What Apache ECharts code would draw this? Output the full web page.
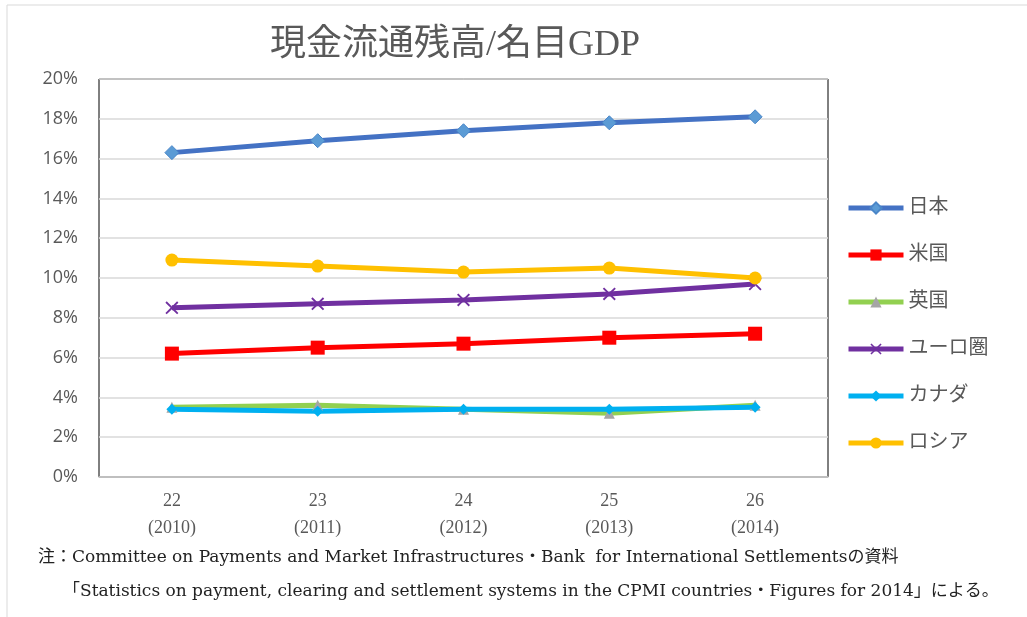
<!DOCTYPE html>
<html>
<head>
<meta charset="utf-8">
<script src="https://cdn.jsdelivr.net/npm/echarts@6/dist/echarts.min.js"></script>
<style>
  html, body { margin: 0; padding: 0; background: #fff; }
  #chart { width: 1027px; height: 617px; }
</style>
</head>
<body>
<div id="chart"></div>
<script>
  // 年度（和暦 / 西暦）
  const categories = ['22\n(2010)', '23\n(2011)', '24\n(2012)', '25\n(2013)', '26\n(2014)']

  // 現金流通残高/名目GDP (%)
  const japan = [16.3, 16.9, 17.4, 17.8, 18.1]
  const usa = [6.2, 6.5, 6.7, 7.0, 7.2]
  const uk = [3.5, 3.6, 3.4, 3.2, 3.6]
  const euro = [8.5, 8.7, 8.9, 9.2, 9.7]
  const canada = [3.4, 3.3, 3.4, 3.4, 3.5]
  const russia = [10.9, 10.6, 10.3, 10.5, 10.0]

  const titleText = '現金流通残高/名目GDP'
  const noteLine1 = '注：Committee on Payments and Market Infrastructures・Bank  for International Settlementsの資料'
  const noteLine2 = '「Statistics on payment, clearing and settlement systems in the CPMI countries・Figures for 2014」による。'

  const crossPath = 'path://M0,1L1,0L5,4L9,0L10,1L6,5L10,9L9,10L5,6L1,10L0,9L4,5Z'
  const serif = '"Liberation Serif", "Noto Sans CJK JP", serif'
  const wideSerif = '"DejaVu Serif", "Noto Sans CJK JP", serif'
  const gray = '#595959'

  function lineSeries(name, data, color, symbol, symbolSize, markerColor, markerBorder) {
    return {
      name,
      type: 'line',
      data,
      symbol,
      symbolSize,
      lineStyle: { color, width: 5 },
      itemStyle: {
        color: markerColor || color,
        borderColor: markerBorder || markerColor || color,
        borderWidth: markerBorder ? 1 : 0
      },
      animation: false
    }
  }

  const chart = echarts.init(document.getElementById('chart'))
  chart.setOption({
    backgroundColor: '#fff',
    grid: {
      left: 99,
      right: 199,
      top: 79,
      bottom: 140,
      show: true,
      borderColor: '#000',
      borderWidth: 1
    },
    legend: {
      orient: 'vertical',
      left: 841,
      top: 193,
      itemWidth: 55,
      itemHeight: 14,
      itemGap: 27,
      lineStyle: { width: 5 },
      textStyle: { fontSize: 20, color: gray, fontFamily: serif },
      data: ['日本', '米国', '英国', 'ユーロ圏', 'カナダ', 'ロシア']
    },
    xAxis: {
      type: 'category',
      data: categories,
      axisLine: { lineStyle: { color: '#BFBFBF', width: 1.5 } },
      axisTick: { show: false },
      axisLabel: {
        color: gray,
        fontSize: 18,
        fontFamily: serif,
        lineHeight: 27,
        margin: 11
      },
      z: 5
    },
    yAxis: {
      type: 'value',
      min: 0,
      max: 20,
      interval: 2,
      axisLine: { show: false },
      axisTick: { show: false },
      axisLabel: {
        formatter: '{value}%',
        color: gray,
        fontSize: 18,
        fontFamily: '"Open Sans", "Liberation Sans", sans-serif',
        margin: 21
      },
      splitLine: { lineStyle: { color: '#D9D9D9', width: 1.5 } }
    },
    graphic: [
      {
        type: 'line',
        shape: { x1: 7, y1: 5, x2: 1027, y2: 5 },
        style: { stroke: '#D9D9D9', lineWidth: 1 }
      },
      {
        type: 'line',
        shape: { x1: 7, y1: 5, x2: 7, y2: 617 },
        style: { stroke: '#D9D9D9', lineWidth: 1 }
      },
      {
        type: 'text',
        x: 455,
        y: 46,
        style: {
          text: titleText,
          fill: gray,
          font: '36px ' + serif,
          textAlign: 'center',
          textVerticalAlign: 'middle'
        }
      },
      {
        type: 'text',
        x: 38,
        y: 558,
        style: {
          text: noteLine1,
          fill: '#222',
          font: '17px ' + wideSerif,
          textVerticalAlign: 'middle'
        }
      },
      {
        type: 'text',
        x: 63,
        y: 592,
        style: {
          text: noteLine2,
          fill: '#222',
          font: '17px ' + wideSerif,
          textVerticalAlign: 'middle'
        }
      }
    ],
    series: [
      lineSeries('日本', japan, '#4472C4', 'diamond', 14, '#5B9BD5', '#4A86C8'),
      lineSeries('米国', usa, '#FF0000', 'rect', 14),
      lineSeries('英国', uk, '#92D050', 'triangle', 11, '#A5A5A5'),
      lineSeries('ユーロ圏', euro, '#7030A0', crossPath, 13),
      lineSeries('カナダ', canada, '#00B0F0', 'diamond', 11),
      lineSeries('ロシア', russia, '#FFC000', 'circle', 13)
    ]
  })
</script>
</body>
</html>
